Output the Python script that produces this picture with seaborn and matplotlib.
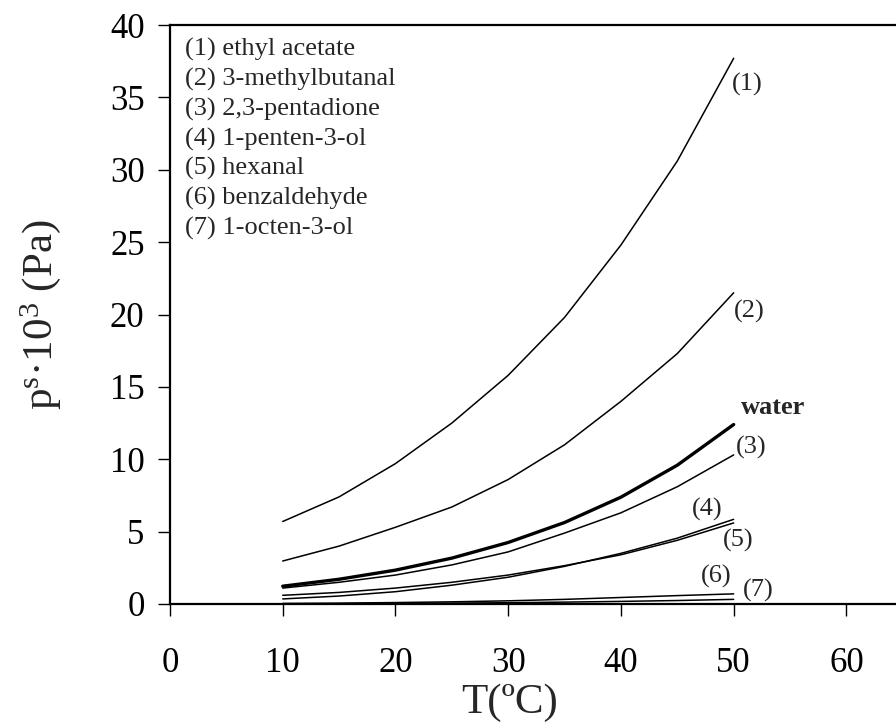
import numpy as np
import pandas as pd
import matplotlib
matplotlib.use("Agg")
import matplotlib.pyplot as plt
import seaborn as sns

# ---- data ----
temps = [10, 15, 20, 25, 30, 35, 40, 45, 50]
ethyl_acetate = [5.7, 7.4, 9.7, 12.5, 15.8, 19.8, 24.8, 30.6, 37.7]
methylbutanal = [2.97, 4.0, 5.3, 6.7, 8.6, 11.0, 14.0, 17.3, 21.5]
water = [1.23, 1.71, 2.34, 3.17, 4.25, 5.63, 7.38, 9.59, 12.4]
pentadione = [1.1, 1.5, 2.0, 2.7, 3.6, 4.9, 6.3, 8.1, 10.3]
pentenol = [0.35, 0.55, 0.85, 1.3, 1.85, 2.6, 3.5, 4.55, 5.85]
hexanal = [0.6, 0.8, 1.1, 1.5, 2.0, 2.65, 3.4, 4.4, 5.6]
benzaldehyde = [0.04, 0.06, 0.1, 0.15, 0.22, 0.32, 0.45, 0.58, 0.7]
octenol = [0.01, 0.02, 0.04, 0.06, 0.09, 0.13, 0.18, 0.24, 0.32]

series_names = ["(1)", "(2)", "water", "(3)", "(4)", "(5)", "(6)", "(7)"]
series_values = [ethyl_acetate, methylbutanal, water, pentadione,
                 pentenol, hexanal, benzaldehyde, octenol]
legend_lines = ["(1) ethyl acetate", "(2) 3-methylbutanal", "(3) 2,3-pentadione",
                "(4) 1-penten-3-ol", "(5) hexanal", "(6) benzaldehyde",
                "(7) 1-octen-3-ol"]
x_ticks = [0, 10, 20, 30, 40, 50, 60]
y_ticks = [0, 5, 10, 15, 20, 25, 30, 35, 40]

rows = []
for name, vals in zip(series_names, series_values):
    for t, v in zip(temps, vals):
        rows.append({"T": t, "p": v, "series": name})
df = pd.DataFrame(rows)

sns.set_theme(style="ticks")
plt.rcParams["font.family"] = ["Liberation Serif", "DejaVu Serif"]
plt.rcParams["mathtext.fontset"] = "custom"
plt.rcParams["mathtext.rm"] = "Liberation Serif"
plt.rcParams["mathtext.it"] = "Liberation Serif:italic"
plt.rcParams["mathtext.bf"] = "Liberation Serif:bold"

fig = plt.figure(figsize=(8.96, 7.26), dpi=100)
ax = fig.add_axes([170/896, 122/726, 1 - 170/896, 579/726])

for name in series_names:
    sub = df[df["series"] == name]
    lw = 2.4 if name == "water" else 1.1
    sns.lineplot(data=sub, x="T", y="p", ax=ax, color="black", lw=lw,
                 legend=False, sort=False)

ax.set_xlim(0, 64.4)
ax.set_ylim(0, 40)
ax.set_xticks(x_ticks)
ax.set_yticks(y_ticks)
ax.tick_params(axis="both", direction="out", length=8.3, width=1.0,
               labelsize=25, colors="black")
ax.tick_params(axis="x", pad=23)
ax.tick_params(axis="y", pad=10)

for s in ["left", "bottom", "top"]:
    ax.spines[s].set_visible(True)
    ax.spines[s].set_linewidth(1.6)
    ax.spines[s].set_color("black")
ax.spines["right"].set_visible(False)

ax.set_xlabel("T(ºC)", fontsize=31)
ax.set_ylabel(r"p$^{\rm s}$·10$^{3}$ (Pa)", fontsize=31)
ax.xaxis.set_label_coords(0.468, -0.138)
ax.yaxis.set_label_coords(-0.147, 0.5)

for i, line in enumerate(legend_lines):
    ax.text(0.0207, 0.957 - i * 0.0513, line, transform=ax.transAxes,
            fontsize=19, va="center", ha="left")

labels = {"(1)": (49.8, 35.9), "(2)": (50.0, 20.2), "water": (50.6, 13.6),
          "(3)": (50.2, 10.8), "(4)": (46.3, 6.5), "(5)": (49.0, 4.4),
          "(6)": (47.1, 1.93), "(7)": (50.8, 0.97)}
for name, (lx, ly) in labels.items():
    if name == "water":
        ax.text(lx, ly, name, fontsize=19, fontweight="bold", va="center", ha="left")
    else:
        ax.text(lx, ly, name, fontsize=19, va="center", ha="left")

fig.savefig("out.png", dpi=100)
